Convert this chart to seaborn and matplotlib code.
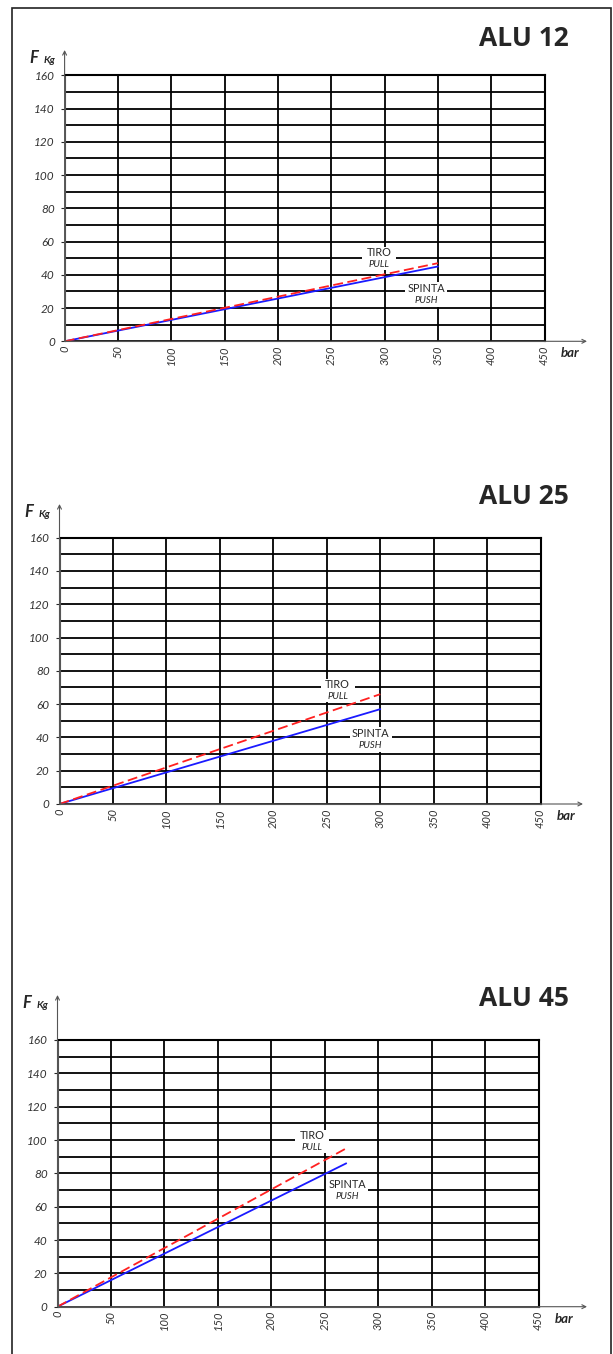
import numpy as np
import pandas as pd
import matplotlib
matplotlib.use("Agg")
import matplotlib.pyplot as plt
import seaborn as sns
from matplotlib.patches import Rectangle

# data
models = ["ALU 12", "ALU 25", "ALU 45"]
pressure = {"ALU 12": [0, 350], "ALU 25": [0, 300], "ALU 45": [0, 270]}
pull_kg = {"ALU 12": [0, 47], "ALU 25": [0, 66], "ALU 45": [0, 95]}
push_kg = {"ALU 12": [0, 45], "ALU 25": [0, 57], "ALU 45": [0, 86]}
x_ticks = [0, 50, 100, 150, 200, 250, 300, 350, 400, 450]
y_ticks = [0, 20, 40, 60, 80, 100, 120, 140, 160]

# label positions (data coords) for TIRO/PULL and SPINTA/PUSH
pull_lbl = {"ALU 12": (295, 50), "ALU 25": (260, 68), "ALU 45": (238, 99)}
push_lbl = {"ALU 12": (339, 28), "ALU 25": (291, 39), "ALU 45": (271, 70)}

# panel boxes in pixels: left, right, top, bottom
boxes = {"ALU 12": (64.6, 544.6, 75.3, 341.3),
         "ALU 25": (59.5, 540.7, 537.7, 804.0),
         "ALU 45": (57.5, 538.7, 1040.0, 1306.7)}
title_y = {"ALU 12": 38, "ALU 25": 496, "ALU 45": 998}
arrow_top = {"ALU 12": 50, "ALU 25": 504, "ALU 45": 995}
arrow_right = {"ALU 12": 587, "ALU 25": 583, "ALU 45": 587}

W, H = 613, 1354
sns.set_style("white")
plt.rcParams["font.family"] = ["Lato", "DejaVu Sans"]

fig = plt.figure(figsize=(W / 100, H / 100), dpi=100)
fig.patch.set_facecolor("white")

def fx(x):
    return x / W

def fy(y):
    return 1 - y / H

# outer frame
fig.add_artist(Rectangle((fx(12), fy(1360)), fx(611) - fx(12), fy(8) - fy(1360),
                         transform=fig.transFigure, fill=False, edgecolor="#222222", lw=1.2))

def label(ax, cx, cy, top, bottom, wpx, hpx, sx, sy):
    # white patch hiding the grid, then the two lines of text
    w, h = wpx / sx, hpx / sy
    ax.add_patch(Rectangle((cx - w / 2, cy - h / 2), w, h, facecolor="white",
                           edgecolor="none", zorder=2.2))
    dy = 6.0 / sy
    ax.text(cx, cy + dy, top, ha="center", va="center", fontsize=7.8, zorder=3)
    ax.text(cx, cy - dy, bottom, ha="center", va="center", fontsize=6.8,
            style="italic", zorder=3)

for m in models:
    l, r, t, b = boxes[m]
    ax = fig.add_axes([fx(l), fy(b), fx(r) - fx(l), fy(t) - fy(b)])
    ax.set_xlim(0, 450)
    ax.set_ylim(0, 160)
    ax.set_xticks(x_ticks)
    ax.set_xticklabels([str(v) for v in x_ticks], rotation=90, style="italic",
                       fontsize=8, color="#333333")
    ax.set_yticks(y_ticks)
    ax.set_yticks(np.arange(10, 160, 20), minor=True)
    ax.set_yticklabels([str(v) for v in y_ticks], style="italic",
                       fontsize=8.5, color="#333333")
    ax.grid(True, which="both", color="black", lw=1.3)
    ax.tick_params(axis="x", length=0, pad=3)
    ax.tick_params(axis="y", which="major", length=3, width=0.8, pad=4, left=True)
    ax.tick_params(axis="y", which="minor", length=0)
    for s in ["top", "right"]:
        ax.spines[s].set_color("black")
        ax.spines[s].set_linewidth(1.5)
    for s in ["left", "bottom"]:
        ax.spines[s].set_color("#555555")
        ax.spines[s].set_linewidth(0.8)
    ax.set_axisbelow(True)

    df = pd.DataFrame({"bar": pressure[m], "pull": pull_kg[m], "push": push_kg[m]})
    sns.lineplot(data=df, x="bar", y="push", ax=ax, color="#1a1aff", lw=1.3)
    sns.lineplot(data=df, x="bar", y="pull", ax=ax, color="#ff2020", lw=1.3,
                 linestyle=(0, (5.5, 2.5)))
    ax.set_xlabel("")
    ax.set_ylabel("")

    # axis arrows
    px_per_x = (r - l) / 450
    px_per_y = (b - t) / 160
    ytop = 160 + (t - arrow_top[m]) / px_per_y
    xend = 450 + (arrow_right[m] - r) / px_per_x
    ax.annotate("", xy=(0, ytop), xytext=(0, 0), annotation_clip=False,
                arrowprops=dict(arrowstyle="->", color="#555555", lw=0.8,
                                shrinkA=0, shrinkB=0, mutation_scale=7))
    ax.annotate("", xy=(xend, 0), xytext=(0, 0), annotation_clip=False,
                arrowprops=dict(arrowstyle="->", color="#555555", lw=0.8,
                                shrinkA=0, shrinkB=0, mutation_scale=7))

    label(ax, *pull_lbl[m], "TIRO", "PULL", 34, 23, px_per_x, px_per_y)
    label(ax, *push_lbl[m], "SPINTA", "PUSH", 42, 25, px_per_x, px_per_y)

    # titles and axis names
    fig.text(fx(569), fy(title_y[m]), m, ha="right", va="center",
             fontsize=19, fontweight="bold", family=["Open Sans", "DejaVu Sans"])
    fig.text(fx(l - 35), fy(arrow_top[m] + 13), "F", ha="left", va="baseline",
             fontsize=12, fontweight="bold", style="italic")
    fig.text(fx(l - 21), fy(arrow_top[m] + 13), "Kg", ha="left", va="baseline",
             fontsize=7.5, fontweight="bold", style="italic")
    fig.text(fx(r + 16), fy(b + 12), "bar", ha="left", va="center",
             fontsize=9.5, fontweight="bold", style="italic")

fig.savefig("out.png", dpi=100, facecolor="white")
